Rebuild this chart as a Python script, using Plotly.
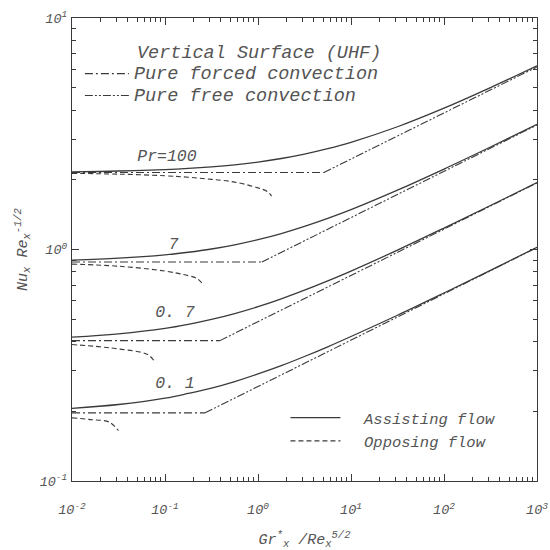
import plotly.graph_objects as go

# ---------------- data ----------------
gr_x = [0.01, 0.0316, 0.1, 0.178, 0.316, 0.562, 1.0, 1.78, 3.16, 5.62, 10, 31.6, 100, 316, 1000]

assist_pr100 = [2.166, 2.183, 2.214, 2.240, 2.275, 2.322, 2.387, 2.472, 2.583, 2.725, 2.904, 3.390, 4.079, 5.005, 6.216]
assist_pr7 = [0.900, 0.917, 0.948, 0.973, 1.005, 1.048, 1.103, 1.172, 1.258, 1.362, 1.486, 1.804, 2.225, 2.771, 3.471]
assist_pr07 = [0.418, 0.432, 0.456, 0.475, 0.499, 0.529, 0.566, 0.612, 0.667, 0.732, 0.807, 0.994, 1.238, 1.549, 1.945]
assist_pr01 = [0.206, 0.214, 0.228, 0.239, 0.252, 0.269, 0.290, 0.315, 0.345, 0.380, 0.421, 0.520, 0.649, 0.813, 1.022]

opp_x_pr100 = [0.01, 0.0316, 0.1, 0.178, 0.316, 0.562, 1.0, 1.26, 1.4]
opp_y_pr100 = [2.133, 2.116, 2.082, 2.052, 2.009, 1.955, 1.846, 1.78, 1.70]
opp_x_pr7 = [0.01, 0.0316, 0.1, 0.178, 0.22, 0.263]
opp_y_pr7 = [0.865, 0.847, 0.807, 0.771, 0.750, 0.700]
opp_x_pr07 = [0.01, 0.02, 0.0316, 0.065, 0.078]
opp_y_pr07 = [0.3885, 0.380, 0.3718, 0.352, 0.326]
opp_x_pr01 = [0.01, 0.0158, 0.0251, 0.0316]
opp_y_pr01 = [0.1874, 0.1842, 0.1797, 0.165]

pr_names = ["100", "7", "0.7", "0.1"]
forced_value = [2.15, 0.883, 0.404, 0.197]     # pure forced convection level
kink_x = [5.1, 1.1, 0.39, 0.27]                # forced = free intersection
free_end = [6.15, 3.45, 1.94, 1.02]            # pure free convection at x = 10^3
x_start = 0.01
x_end = 1000

pr_label_text = ["Pr=100", "7", "0. 7", "0. 1"]
pr_label_x = [0.105, 0.123, 0.128, 0.128]
pr_label_y = [2.51, 1.045, 0.53, 0.264]

tick_vals_x = [0.01, 0.1, 1, 10, 100, 1000]
tick_text_x = ["10<sup>-2</sup>", "10<sup>-1</sup>", "10<sup>0</sup>", "10<sup>1</sup>", "10<sup>2</sup>", "10<sup>3</sup>"]
tick_vals_y = [0.1, 1, 10]
tick_text_y = ["10<sup>-1</sup>", "10<sup>0</sup>", "10<sup>1</sup>"]

# ---------------- styling ----------------
INK = "#3a3a3a"
TXT = "#555555"
FONT = "Liberation Mono"
FORCED_DASH = "8px,3px,2px,3px"
FREE_DASH = "8px,2px,2px,2px,2px,2px"
OPP_DASH = "5px,3px"
NB = "\u00a0"


def big(s, size):
    return '<span style="font-size:%gpx">%s</span>' % (size, s)


fig = go.Figure()

assist_sets = [assist_pr100, assist_pr7, assist_pr07, assist_pr01]
opp_sets = [(opp_x_pr100, opp_y_pr100), (opp_x_pr7, opp_y_pr7),
            (opp_x_pr07, opp_y_pr07), (opp_x_pr01, opp_y_pr01)]

for i, pr in enumerate(pr_names):
    fig.add_trace(go.Scatter(
        x=[x_start, kink_x[i]], y=[forced_value[i], forced_value[i]], mode="lines",
        line=dict(color=INK, width=1.1, dash=FORCED_DASH),
        name=big("Pure forced convection", 18.5), legendgroup="forced",
        showlegend=(i == 0), legend="legend"))
    fig.add_trace(go.Scatter(
        x=[kink_x[i], x_end], y=[forced_value[i], free_end[i]], mode="lines",
        line=dict(color=INK, width=1.1, dash=FREE_DASH),
        name=big("Pure free convection", 18.5), legendgroup="free",
        showlegend=(i == 0), legend="legend"))
    fig.add_trace(go.Scatter(
        x=gr_x, y=assist_sets[i], mode="lines", line_shape="spline",
        line=dict(color=INK, width=1.3),
        name=NB + NB + "Assisting flow", legendgroup="assist",
        showlegend=(i == 0), legend="legend2"))
    fig.add_trace(go.Scatter(
        x=opp_sets[i][0], y=opp_sets[i][1], mode="lines", line_shape="spline",
        line=dict(color=INK, width=1.1, dash=OPP_DASH),
        name=NB + NB + "Opposing flow", legendgroup="opp",
        showlegend=(i == 0), legend="legend2"))

fig.add_trace(go.Scatter(
    x=pr_label_x, y=pr_label_y, mode="text", text=pr_label_text,
    textposition="middle center",
    textfont=dict(family=FONT, size=16.5, color=TXT, style="italic"),
    showlegend=False, hoverinfo="skip"))

axis_common = dict(
    type="log", showgrid=False, zeroline=False, automargin=False,
    showline=True, linecolor=INK, linewidth=1.2, mirror="ticks",
    ticks="inside", ticklen=7, tickcolor=INK, tickwidth=1.2,
    tickfont=dict(family=FONT, size=13.5, color=TXT, style="italic"),
    minor=dict(ticks="inside", ticklen=4, tickcolor=INK, tickwidth=1.1,
               showgrid=False, dtick="D1"),
)

fig.update_xaxes(axis_common, range=[-2, 3], tickmode="array",
                 tickvals=tick_vals_x, ticktext=tick_text_x, ticklabelstandoff=16,
                 title=dict(text="Gr<sup>*</sup><sub>x</sub> /Re<sub>x</sub><sup>5/2</sup>",
                            font=dict(family=FONT, size=15, color=TXT, style="italic"),
                            standoff=20))
fig.update_yaxes(axis_common, range=[-1, 1], tickmode="array",
                 tickvals=tick_vals_y, ticktext=tick_text_y, ticklabelstandoff=1,
                 title=dict(text="Nu<sub>x</sub> Re<sub>x</sub><sup>-1/2</sup>",
                            font=dict(family=FONT, size=15, color=TXT, style="italic"),
                            standoff=8))

fig.update_layout(
    width=550, height=550,
    margin=dict(l=72, r=13, t=18, b=69),
    paper_bgcolor="white", plot_bgcolor="white",
    showlegend=True,
    legend=dict(x=0.017, y=0.9145, xanchor="left", yanchor="top",
                bgcolor="rgba(0,0,0,0)", itemwidth=44, tracegroupgap=0,
                font=dict(family=FONT, size=14.6, color=TXT, style="italic")),
    legend2=dict(x=0.459, y=0.1725, xanchor="left", yanchor="top",
                 bgcolor="rgba(0,0,0,0)", itemwidth=50, tracegroupgap=0,
                 font=dict(family=FONT, size=15.5, color=TXT, style="italic")),
    annotations=[dict(text="Vertical Surface (UHF)", xref="paper", yref="paper",
                      x=0.1355, y=0.923, xanchor="left", yanchor="middle", showarrow=False,
                      font=dict(family=FONT, size=18.5, color=TXT, style="italic"))],
)

fig.write_html("out.html")
